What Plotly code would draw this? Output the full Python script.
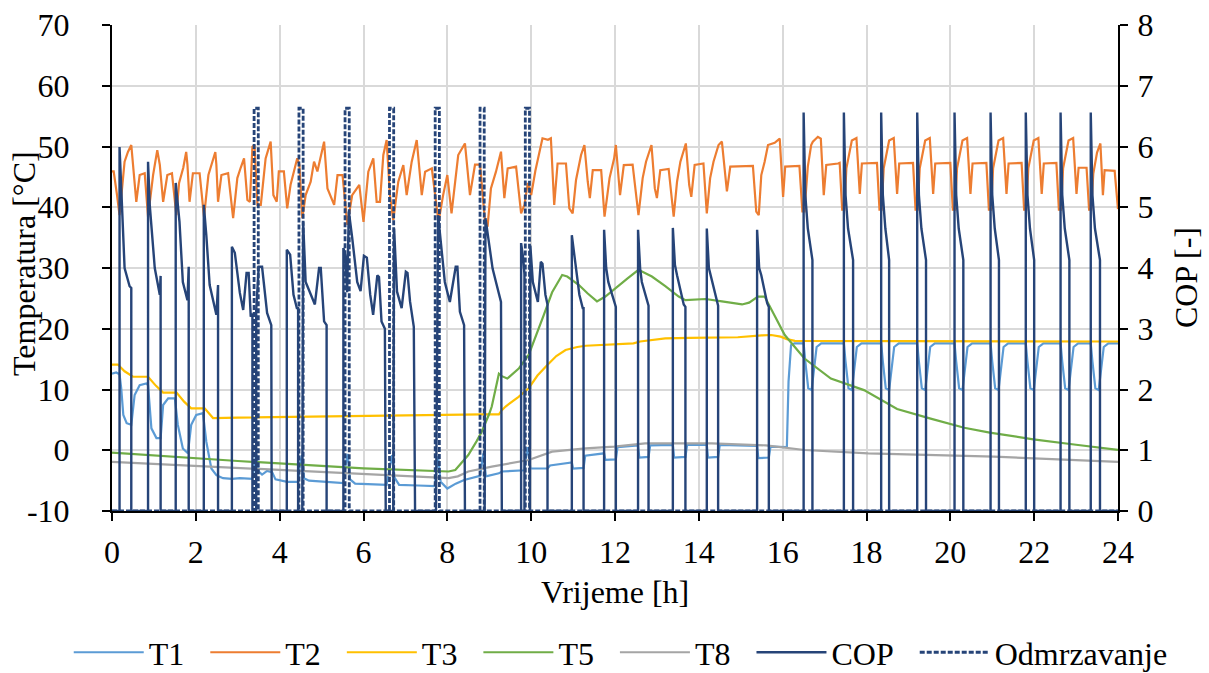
import plotly.graph_objects as go

# ---------------- data (time in hours) ----------------
t1_pts = [(0.00,12.6),(0.10,12.8),(0.18,12.5),(0.22,10.2),(0.27,5.8),(0.35,4.45),(0.46,4.2),(0.50,6.5),
          (0.54,9.1),(0.66,10.7),(0.82,11.0),(0.86,10.7),(0.94,3.6),(1.06,2.0),(1.16,2.0),(1.22,7.45),
          (1.34,8.55),(1.50,8.55),(1.57,4.2),(1.69,0.3),(1.81,-0.5),(1.89,4.2),(2.01,5.8),(2.17,6.1),
          (2.25,1.4),(2.37,-3.0),(2.49,-4.1),(2.57,-4.35),(2.65,-4.6),(2.86,-4.7),(3.05,-4.6),(3.35,-4.7),
          (3.40,-2.0),(3.44,-0.5),(3.50,-3.5),(3.58,-4.0),(3.70,-3.4),(3.82,-3.6),(3.90,-4.8),(4.18,-5.2),
          (4.44,-5.2),(4.48,-2.5),(4.53,-0.8),(4.58,-4.6),(4.70,-5.0),(5.20,-5.3),(5.52,-5.4),(5.57,-2.5),
          (5.62,-0.6),(5.68,-4.8),(5.80,-5.5),(6.55,-5.7),(6.63,-3.0),(6.68,-0.8),(6.74,-4.5),(6.85,-5.7),
          (7.30,-5.8),(7.70,-5.9),(7.74,-3.0),(7.78,-1.0),(7.84,-5.2),(8.00,-6.3),(8.20,-5.5),(8.40,-4.9),
          (8.78,-4.2),(8.82,-2.0),(8.86,-0.5),(8.92,-4.3),(9.23,-3.8),(9.30,-3.5),(9.84,-3.3),(9.88,-1.0),
          (9.92,0.5),(9.98,-3.0),(10.39,-3.0),(10.45,-2.5),(10.97,-2.0),(11.00,-3.0),(11.25,-2.9),
          (11.29,-0.9),(11.74,-0.5),(11.77,-1.6),(12.02,-1.5),(12.06,0.5),(12.55,0.8),(12.58,-1.2),
          (12.80,-1.1),(12.84,0.8),(13.38,0.9),(13.41,-1.2),(13.68,-1.1),(13.72,0.9),(14.19,0.9),
          (14.22,-1.2),(14.46,-1.1),(14.50,0.9),(15.39,0.7),(15.42,-1.3),(15.67,-1.2),(15.71,0.6),
          (16.10,0.5),(16.14,11.3),(16.20,17.3),(16.28,17.6),
          (16.50,17.6),(16.54,14.6),(16.61,10.2),(16.69,9.9),(16.75,14.0),(16.81,17.0),(16.92,17.6),
          (17.46,17.6),(17.50,14.6),(17.57,10.2),(17.65,9.9),(17.71,14.0),(17.77,17.0),(17.88,17.6),
          (18.35,17.6),(18.39,14.6),(18.46,10.2),(18.54,9.9),(18.60,14.0),(18.66,17.0),(18.77,17.6),
          (19.21,17.6),(19.25,14.6),(19.32,10.2),(19.40,9.9),(19.46,14.0),(19.52,17.0),(19.63,17.6),
          (20.10,17.6),(20.14,14.6),(20.21,10.2),(20.29,9.9),(20.35,14.0),(20.41,17.0),(20.52,17.6),
          (20.96,17.6),(21.00,14.6),(21.07,10.2),(21.15,9.9),(21.21,14.0),(21.27,17.0),(21.38,17.6),
          (21.80,17.6),(21.84,14.6),(21.91,10.2),(21.99,9.9),(22.05,14.0),(22.11,17.0),(22.22,17.6),
          (22.63,17.6),(22.67,14.6),(22.74,10.2),(22.82,9.9),(22.88,14.0),(22.94,17.0),(23.05,17.6),
          (23.35,17.6),(23.39,14.6),(23.46,10.2),(23.54,9.9),(23.60,14.0),(23.66,17.0),(23.77,17.6),
          (24.00,17.6)]

t2_pts = [(0.00,45.9),(0.04,45.9),(0.12,42.0),(0.18,38.7),(0.30,47.5),(0.38,49.1),(0.46,50.25),(0.50,47.5),
          (0.58,40.9),(0.66,45.3),(0.78,45.6),(0.86,38.4),(0.98,45.3),(1.08,49.4),(1.14,47.0),(1.22,40.9),
          (1.32,45.3),(1.43,45.6),(1.535,38.7),(1.60,44.0),(1.70,46.5),(1.77,49.1),(1.80,47.0),(1.85,40.9),
          (1.93,45.6),(2.09,45.6),(2.195,38.4),(2.30,45.3),(2.40,47.5),(2.465,49.1),(2.49,47.0),(2.53,40.9),
          (2.61,45.3),(2.77,45.6),(2.89,38.2),(2.99,44.8),(3.07,46.5),(3.15,48.05),(3.23,41.2),(3.29,40.9),
          (3.35,49.97),(3.40,50.25),(3.47,40.4),(3.55,40.4),(3.665,48.05),(3.785,50.8),(3.85,42.0),
          (3.93,40.9),(3.98,45.9),(4.10,45.9),(4.18,39.8),(4.26,43.7),(4.34,45.9),(4.42,48.05),(4.47,47.0),
          (4.54,38.2),(4.62,42.0),(4.74,44.2),(4.82,47.5),(4.90,45.9),(5.06,50.8),(5.14,43.1),(5.30,40.4),
          (5.38,45.3),(5.50,45.3),(5.615,37.1),(5.73,42.0),(5.90,43.7),(6.00,37.6),(6.115,45.86),
          (6.234,48.05),(6.314,40.9),(6.393,40.9),(6.473,48.6),(6.552,51.07),(6.63,42.0),(6.71,37.9),
          (6.83,44.2),(6.95,46.95),(7.03,42.0),(7.15,47.5),(7.27,51.07),(7.39,42.0),(7.47,45.86),
          (7.63,46.4),(7.79,37.6),(7.90,42.0),(8.00,45.3),(8.10,39.0),(8.26,48.6),(8.42,50.5),(8.54,42.0),
          (8.66,47.0),(8.78,47.0),(8.90,37.6),(8.96,36.8),(9.04,43.1),(9.16,45.86),(9.28,49.15),(9.36,41.5),
          (9.44,46.4),(9.64,46.7),(9.76,39.0),(9.84,40.4),(9.92,44.0),(10.00,42.0),(10.10,46.0),
          (10.18,48.5),(10.27,51.35),(10.40,51.1),(10.47,51.35),(10.55,40.4),(10.63,47.2),(10.83,47.2),
          (10.91,39.8),(10.99,39.0),(11.07,44.5),(11.19,48.6),(11.27,50.25),(11.35,44.2),(11.40,41.5),
          (11.47,46.1),(11.67,46.1),(11.75,38.45),(11.87,44.8),(11.98,48.05),(12.02,50.25),(12.12,42.0),
          (12.21,46.95),(12.42,47.0),(12.50,42.0),(12.56,38.7),(12.66,44.8),(12.74,47.5),(12.87,50.25),
          (12.95,43.1),(13.00,41.5),(13.08,46.1),(13.28,46.3),(13.40,38.45),(13.48,44.2),(13.56,47.5),
          (13.69,50.5),(13.77,43.7),(13.82,41.7),(13.90,46.95),(14.11,47.2),(14.19,39.0),(14.27,44.8),
          (14.35,47.5),(14.47,50.25),(14.55,50.8),(14.67,42.6),(14.75,46.7),(15.29,46.8),(15.37,39.3),
          (15.43,38.7),(15.49,45.3),(15.57,47.5),(15.65,50.25),(15.81,50.6),(15.89,51.07),(15.93,51.3),
          (16.01,41.7),(16.06,46.7),(16.40,46.8),(16.47,39.3),(16.52,39.3),(16.60,46.7),(16.68,50.25),
          (16.72,50.8),(16.84,51.6),(16.91,51.3),(16.98,42.0),(17.04,46.95),(17.32,47.2),
          (17.36,47.3),(17.42,39.6),(17.47,39.6),(17.52,46.4),(17.59,49.2),(17.65,51.0),(17.76,51.4),(17.84,42.2),(17.89,47.2),
          (18.25,47.3),(18.31,39.6),(18.36,39.6),(18.41,46.4),(18.48,49.2),(18.54,51.0),(18.65,51.4),(18.73,42.2),(18.78,47.2),
          (19.11,47.3),(19.17,39.6),(19.22,39.6),(19.27,46.4),(19.34,49.2),(19.40,51.0),(19.51,51.4),(19.59,42.2),(19.64,47.2),
          (20.00,47.3),(20.06,39.6),(20.11,39.6),(20.16,46.4),(20.23,49.2),(20.29,51.0),(20.40,51.4),(20.48,42.2),(20.53,47.2),
          (20.86,47.3),(20.92,39.6),(20.97,39.6),(21.02,46.4),(21.09,49.2),(21.15,51.0),(21.26,51.4),(21.34,42.2),(21.39,47.2),
          (21.70,47.3),(21.76,39.6),(21.81,39.6),(21.86,46.4),(21.93,49.2),(21.99,51.0),(22.10,51.4),(22.18,42.2),(22.23,47.2),
          (22.53,47.3),(22.59,39.6),(22.64,39.6),(22.69,46.4),(22.76,49.2),(22.82,51.0),(22.93,51.4),(23.01,42.2),(23.06,46.5),
          (23.25,46.5),(23.31,39.6),(23.36,39.6),(23.41,45.5),(23.50,49.0),(23.58,50.5),(23.64,42.0),(23.68,46.1),
          (23.92,46.0),(24.00,39.7)]

t3_pts = [(0.00,14.1),(0.14,14.1),(0.30,13.0),(0.50,12.1),(0.86,12.1),(1.05,10.6),(1.22,9.5),(1.54,9.5),
          (1.72,8.0),(1.89,6.9),(2.21,6.9),(2.32,6.0),(2.41,5.3),(3.00,5.36),(6.00,5.7),(8.82,5.9),(9.23,5.9),
          (9.30,6.6),(9.39,7.2),(9.70,8.8),(9.94,10.2),(10.15,12.3),(10.38,14.0),(10.60,15.5),(10.82,16.5),
          (11.10,17.0),(11.30,17.2),(11.98,17.4),(12.44,17.6),(12.60,17.9),(13.20,18.4),(13.78,18.5),
          (14.93,18.6),(15.50,18.9),(15.73,18.97),(15.95,18.7),(16.10,18.3),(16.29,18.0),(24.00,17.9)]

t5_pts = [(0.00,-0.4),(3.00,-1.77),(6.00,-2.98),(8.03,-3.5),(8.19,-3.25),(8.35,-2.0),(8.50,-0.78),
          (8.70,1.5),(8.82,3.06),(9.00,6.0),(9.06,7.2),(9.23,12.6),(9.30,12.2),(9.43,11.8),(9.55,12.5),
          (9.71,13.5),(9.94,15.7),(10.10,18.5),(10.30,22.25),(10.50,26.0),(10.74,28.85),(10.86,28.6),
          (11.14,27.2),(11.35,25.8),(11.57,24.5),(11.77,25.3),(12.00,26.65),(12.30,28.3),(12.56,29.7),
          (12.88,28.6),(13.20,27.0),(13.52,25.3),(13.68,24.7),(14.16,24.9),(14.55,24.5),(15.03,24.0),
          (15.20,24.3),(15.41,25.3),(15.57,25.3),(15.75,23.0),(16.05,18.97),(16.52,15.1),(17.15,11.8),
          (17.94,9.9),(18.73,6.8),(19.53,5.2),(20.33,3.7),(20.94,2.9),(21.98,1.8),(23.00,0.9),(24.00,0.05)]

t8_pts = [(0.00,-1.9),(3.00,-2.9),(6.00,-3.8),(8.03,-4.6),(8.25,-4.3),(8.50,-3.5),(9.06,-2.7),(9.94,-1.6),
          (10.50,-0.23),(11.30,0.3),(11.98,0.6),(12.72,1.14),(14.31,1.14),(15.03,1.0),(15.60,0.8),
          (16.52,0.04),(18.04,-0.5),(21.04,-1.05),(24.00,-1.9)]

cop_pts = [(0.00,0),
           (0.18,0),(0.18,5.99),(0.22,5.26),(0.30,4.00),(0.42,3.70),(0.46,3.67),(0.46,0),
           (0.86,0),(0.86,5.75),(0.90,5.04),(1.02,4.00),(1.10,3.67),(1.14,3.56),(1.16,3.87),(1.16,0),
           (1.52,0),(1.52,5.40),(1.61,4.76),(1.69,3.77),(1.80,3.47),(1.83,4.02),(1.83,0),
           (2.19,0),(2.19,5.04),(2.25,4.54),(2.33,3.72),(2.49,3.23),(2.53,3.72),(2.53,0),
           (2.86,0),(2.86,4.35),(2.93,4.25),(3.05,3.59),(3.13,3.31),(3.21,3.92),(3.26,3.92),(3.31,3.20),(3.35,3.25),(3.35,0),
           (3.44,0),(3.44,3.30),(3.50,4.02),(3.58,4.02),(3.70,3.26),(3.80,3.06),(3.81,0),
           (4.17,0),(4.17,4.30),(4.25,4.22),(4.33,3.56),(4.41,3.34),(4.44,3.34),(4.44,0),
           (4.54,0),(4.56,4.76),(4.62,3.77),(4.74,3.56),(4.84,3.40),(4.94,4.00),(4.98,4.00),(5.06,3.12),(5.12,3.06),(5.12,0),
           (5.52,0),(5.52,4.33),(5.57,4.20),(5.61,3.60),(5.65,4.93),(5.73,4.50),(5.85,3.77),(5.93,3.62),(6.01,4.20),
           (6.08,4.17),(6.16,3.56),(6.23,3.23),(6.33,3.88),(6.37,3.85),(6.43,3.12),(6.51,3.00),(6.53,0),
           (6.71,0),(6.73,4.65),(6.80,3.61),(6.91,3.34),(7.01,3.94),(7.05,3.92),(7.11,3.45),(7.20,3.03),(7.23,0),
           (7.73,0),(7.78,4.87),(7.87,4.27),(7.94,3.77),(8.06,3.44),(8.20,4.02),(8.24,4.02),(8.30,3.28),(8.40,3.06),(8.42,0),
           (8.89,0),(8.91,4.82),(9.00,4.38),(9.08,3.99),(9.16,3.77),(9.28,3.44),(9.30,0),
           (9.76,0),(9.76,4.41),(9.81,4.16),(9.84,3.90),(9.84,0),
           (9.97,0),(9.98,4.37),(10.04,3.77),(10.16,3.44),(10.23,4.10),(10.27,4.07),(10.34,3.56),(10.39,3.40),(10.39,0),
           (10.97,0),(10.97,4.54),(11.07,3.94),(11.15,3.56),(11.23,3.34),(11.25,3.34),(11.25,0),
           (11.74,0),(11.74,4.63),(11.79,4.00),(11.84,3.77),(11.98,3.45),(12.02,3.36),(12.02,0),
           (12.55,0),(12.55,4.63),(12.60,3.99),(12.64,3.77),(12.76,3.44),(12.80,3.38),(12.80,0),
           (13.38,0),(13.38,4.66),(13.43,4.05),(13.48,3.88),(13.64,3.40),(13.68,3.36),(13.68,0),
           (14.19,0),(14.19,4.65),(14.24,4.00),(14.29,3.85),(14.42,3.45),(14.46,3.38),(14.46,0),
           (15.39,0),(15.39,4.63),(15.44,4.00),(15.49,3.88),(15.63,3.42),(15.67,3.36),(15.67,0),
           (16.50,0),(16.50,6.56),(16.54,5.20),(16.60,4.65),(16.71,4.13),(16.71,0),
           (17.46,0),(17.46,6.56),(17.50,5.20),(17.56,4.65),(17.68,4.13),(17.68,0),
           (18.35,0),(18.35,6.56),(18.39,5.20),(18.45,4.65),(18.54,4.13),(18.54,0),
           (19.21,0),(19.21,6.56),(19.25,5.20),(19.31,4.65),(19.42,4.13),(19.42,0),
           (20.10,0),(20.10,6.56),(20.14,5.20),(20.20,4.65),(20.31,4.13),(20.31,0),
           (20.96,0),(20.96,6.56),(21.00,5.20),(21.06,4.65),(21.16,4.13),(21.16,0),
           (21.80,0),(21.80,6.56),(21.84,5.20),(21.90,4.65),(22.00,4.13),(22.00,0),
           (22.63,0),(22.63,6.56),(22.67,5.20),(22.73,4.65),(22.84,4.13),(22.84,0),
           (23.35,0),(23.35,6.56),(23.39,5.20),(23.45,4.65),(23.57,4.13),(23.57,0),
           (24.00,0)]

defrost_pts = [(0.00,0),
               (3.39,0),(3.39,6.63),(3.49,6.63),(3.49,0),
               (4.46,0),(4.46,6.63),(4.56,6.63),(4.56,0),
               (5.56,0),(5.56,6.63),(5.66,6.63),(5.66,0),
               (6.62,0),(6.62,6.63),(6.72,6.63),(6.72,0),
               (7.71,0),(7.71,6.63),(7.81,6.63),(7.81,0),
               (8.78,0),(8.78,6.63),(8.88,6.63),(8.88,0),
               (9.86,0),(9.86,6.63),(9.96,6.63),(9.96,0),
               (24.00,0)]

x_ticks = list(range(0, 25, 2))
y_ticks = list(range(-10, 71, 10))
y_tick_text = ["-10", "0", "10", "20", "30", "40", "50", "60", "70"]
y2_ticks = list(range(0, 9, 1))

FONT = "Liberation Serif"
FS = 32
PAD = "\u00a0\u00a0"   # legend spacing

def split(pts):
    return [p[0] for p in pts], [p[1] for p in pts]

fig = go.Figure()
series = [("T1", t1_pts, "#5B9BD5"), ("T2", t2_pts, "#ED7D31"), ("T3", t3_pts, "#FFC000"),
          ("T5", t5_pts, "#70AD47"), ("T8", t8_pts, "#A5A5A5")]
for name, pts, col in series:
    x, y = split(pts)
    fig.add_trace(go.Scatter(x=x, y=y, name=name + PAD, mode="lines",
                             line=dict(color=col, width=2.2), yaxis="y"))

x, y = split(cop_pts)
fig.add_trace(go.Scatter(x=x, y=y, name="COP" + PAD, mode="lines",
                         line=dict(color="#264478", width=2.4), yaxis="y2"))
x, y = split(defrost_pts)
fig.add_trace(go.Scatter(x=x, y=y, name="Odmrzavanje", mode="lines",
                         line=dict(color="#264478", width=2.8, dash="5px,2px"), yaxis="y2"))

axis_common = dict(showline=True, linecolor="black", linewidth=2, ticks="outside", ticklen=8,
                   tickcolor="black", tickwidth=2, zeroline=False,
                   tickfont=dict(family=FONT, size=FS, color="black"))

fig.update_layout(
    width=1209, height=673,
    paper_bgcolor="white", plot_bgcolor="white",
    margin=dict(l=112, r=91, t=25, b=162, autoexpand=False),
    font=dict(family=FONT, size=FS, color="black"),
    showlegend=True,
    legend=dict(orientation="h", xref="paper", x=-0.043, xanchor="left",
                yref="paper", y=-0.291, yanchor="middle",
                font=dict(family=FONT, size=FS, color="black"),
                itemwidth=70, bgcolor="rgba(0,0,0,0)"),
    xaxis=dict(range=[0, 24], tickvals=x_ticks, showgrid=True, gridcolor="#D9D9D9", gridwidth=1.5,
               ticklabelstandoff=4, **axis_common),
    yaxis=dict(range=[-10, 70], tickvals=y_ticks, ticktext=y_tick_text, showgrid=True,
               gridcolor="#D9D9D9", gridwidth=1.5, ticklabelstandoff=26, **axis_common),
    yaxis2=dict(range=[0, 8], tickvals=y2_ticks, overlaying="y", side="right", showgrid=False,
                ticklabelstandoff=3, **axis_common),
    annotations=[
        dict(text="Temperatura [°C]", xref="paper", yref="paper", x=0, y=0.5, xshift=-88, yshift=4,
             textangle=-90, showarrow=False, xanchor="center", yanchor="middle",
             font=dict(family=FONT, size=FS, color="black")),
        dict(text="COP [-]", xref="paper", yref="paper", x=1, y=0.5, xshift=68, yshift=-10,
             textangle=-90, showarrow=False, xanchor="center", yanchor="middle",
             font=dict(family=FONT, size=FS, color="black")),
        dict(text="Vrijeme [h]", xref="paper", yref="paper", x=0.5, y=0, yshift=-81,
             showarrow=False, xanchor="center", yanchor="middle",
             font=dict(family=FONT, size=FS, color="black")),
    ],
)

fig.write_html("out.html", config={"displayModeBar": False},
               post_script="document.body.style.margin='0';document.body.style.overflow='hidden';")
